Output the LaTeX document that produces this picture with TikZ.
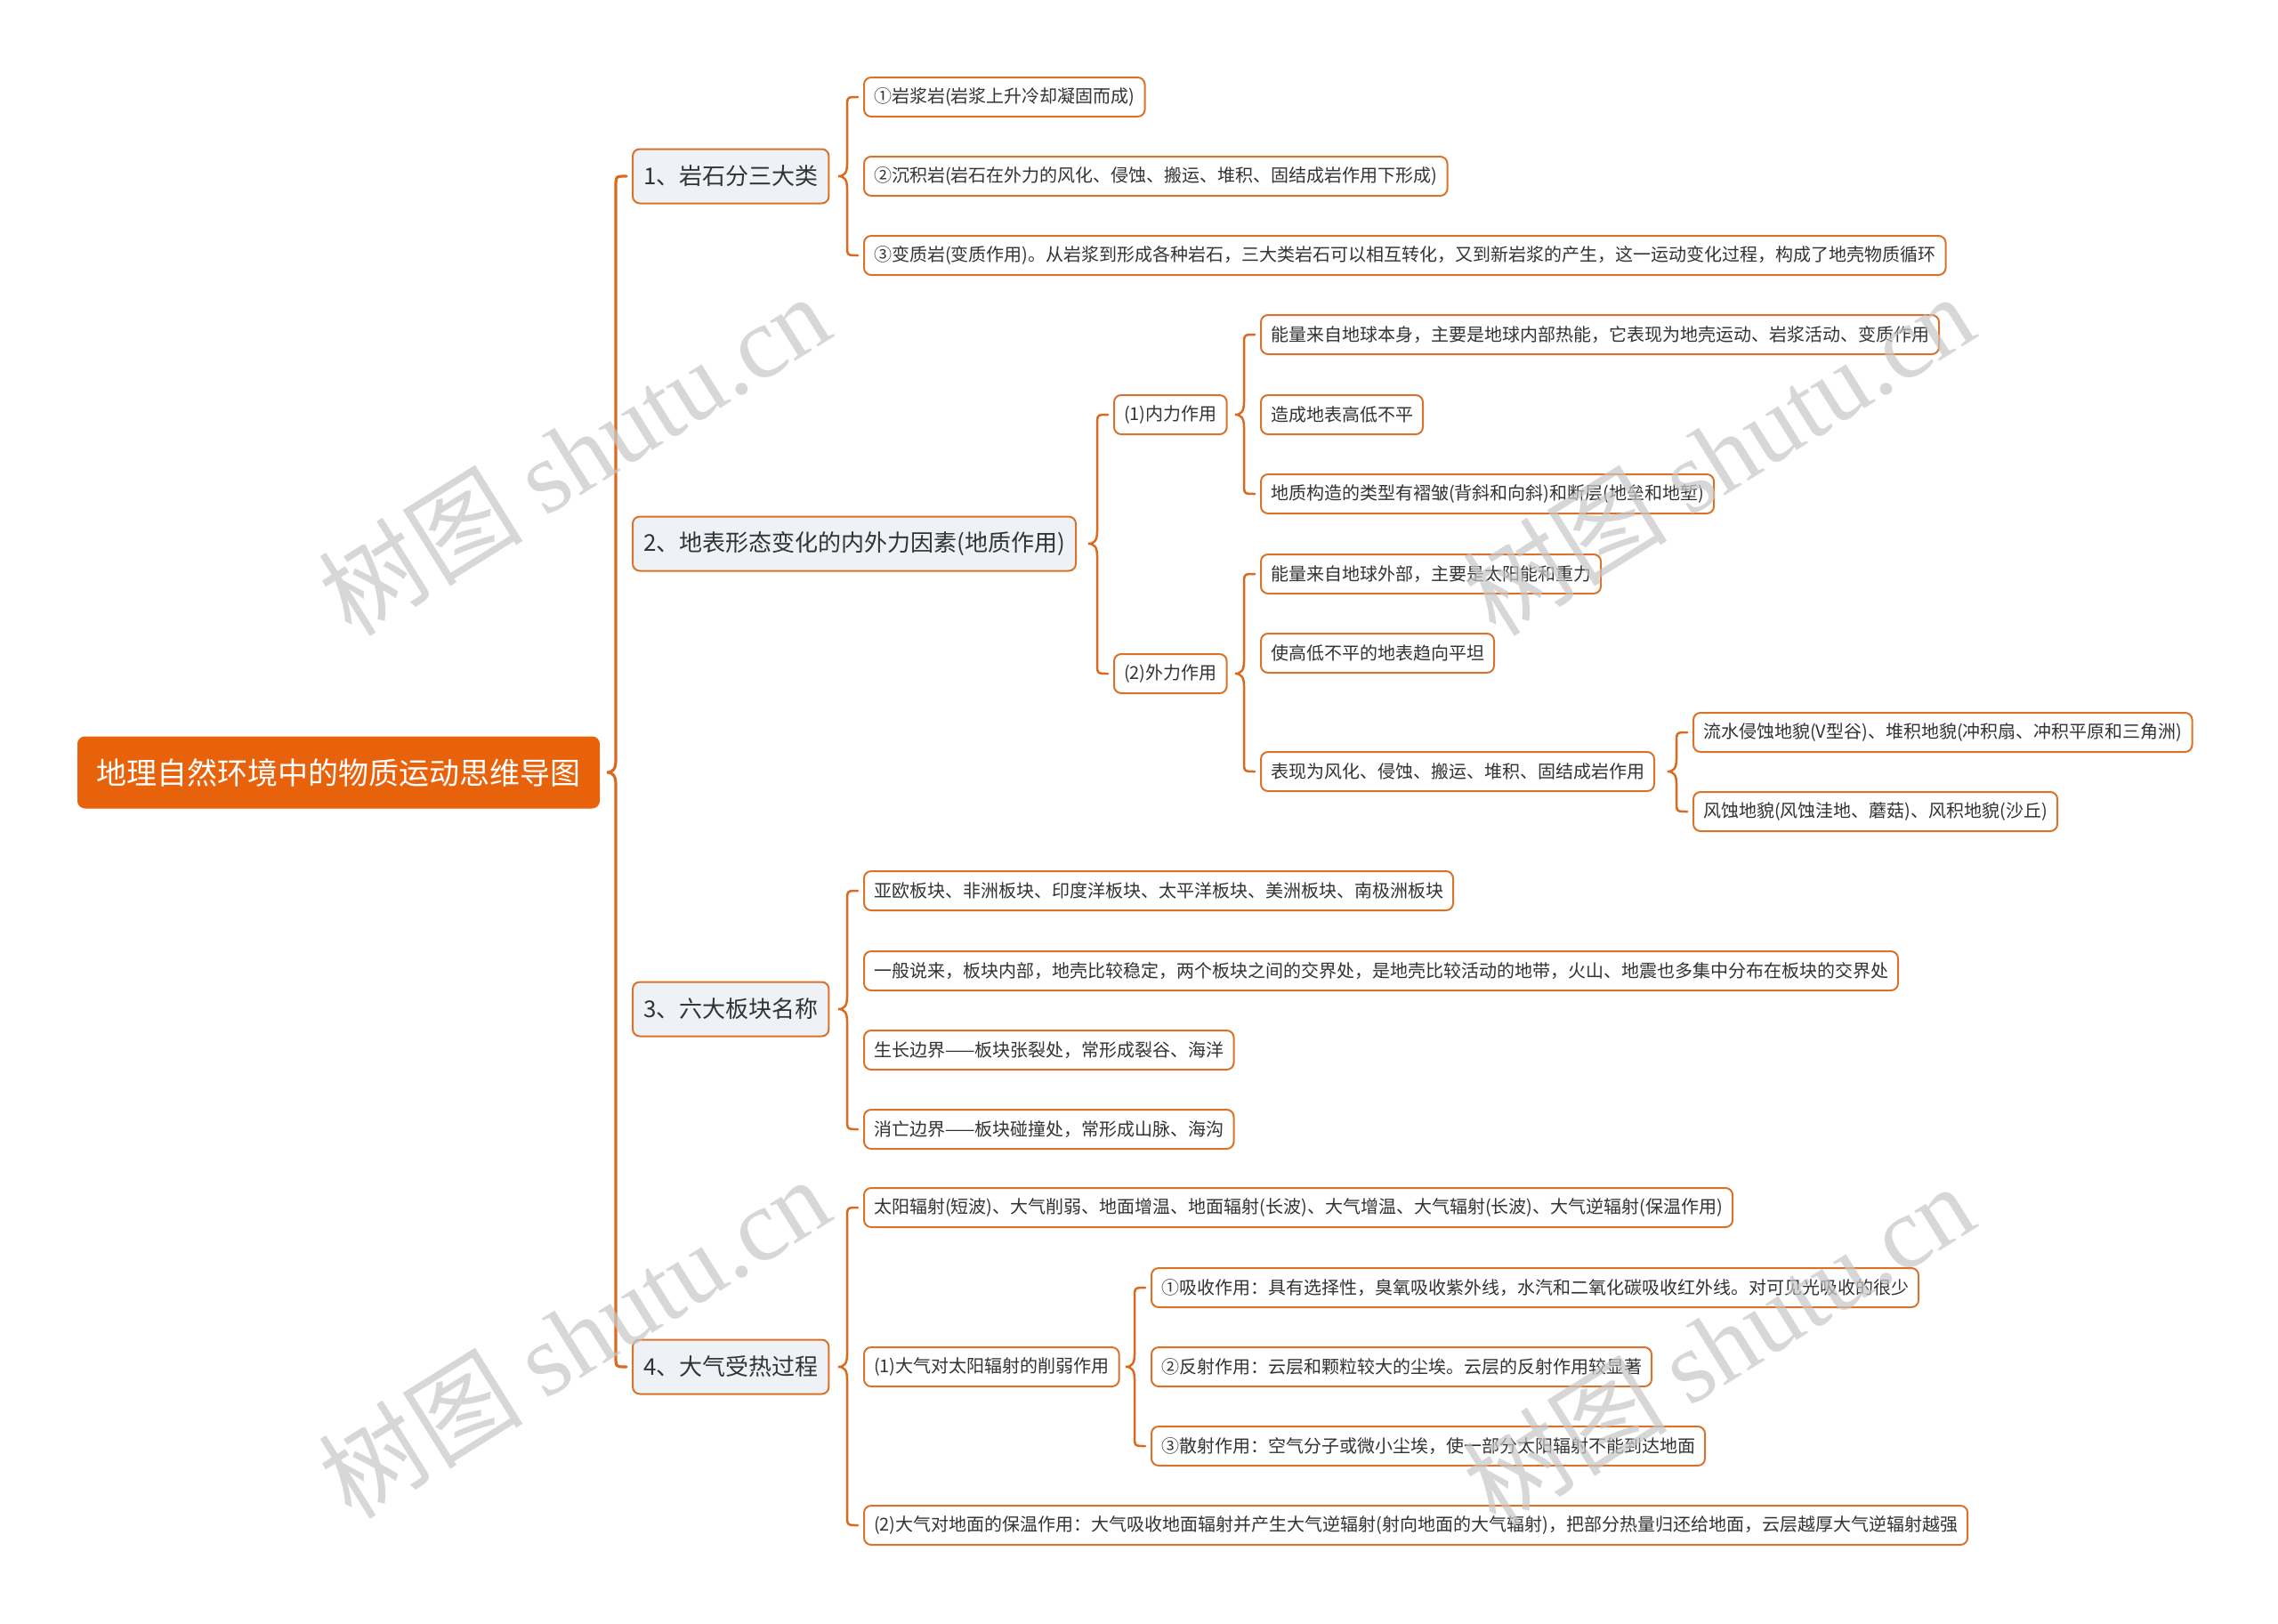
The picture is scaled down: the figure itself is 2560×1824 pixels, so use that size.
\documentclass[tikz,border=0pt]{standalone}
\usepackage{fontspec}
\setmainfont{Noto Sans CJK SC}
\newfontfamily\wmlatin{Liberation Serif}
\usetikzlibrary{calc}
\definecolor{rootfill}{HTML}{E8620C}
\definecolor{linkcol}{HTML}{DC6A1E}
\definecolor{boxline}{HTML}{D9732B}
\definecolor{topicfill}{HTML}{EEF1F5}
\definecolor{inktext}{HTML}{333333}
\tikzset{
  rootbox/.style={draw=rootfill,fill=rootfill,text=white,rounded corners=8pt,line width=1pt,inner xsep=21pt,minimum height=80pt,font=\fontsize{34}{40}\selectfont,anchor=west},
  topicbox/.style={draw=boxline,fill=topicfill,text=inktext,rounded corners=8pt,line width=2pt,inner xsep=12pt,minimum height=61pt,font=\fontsize{26}{31}\selectfont,anchor=west},
  leafbox/.style={draw=boxline,fill=white,text=inktext,rounded corners=8pt,line width=2pt,inner xsep=11pt,minimum height=44pt,font=\fontsize{20}{24}\selectfont,anchor=west},
  mmlink/.style={draw=linkcol,line width=2.5pt,line cap=round},
  mmtrunk/.style={mmlink,line width=3.2pt},
  wmtext/.style={text=black!22,opacity=0.7,rotate=32,font=\fontsize{115}{120}\selectfont}
}
\newcommand{\mmbrace}[4][mmlink]{%
\draw[#1] let \p1=(#2.east), \p2=(#3.west), \p3=(#4.west) in
  (\x2-6pt,\y2) .. controls (\x2-18pt,\y2) .. (\x2-18pt,\y2-12pt)
  -- (\x2-18pt,\y1+14pt) .. controls (\x2-18pt,\y1+4pt) and (\x2-21pt,\y1) .. (\x2-28pt,\y1)
  .. controls (\x2-21pt,\y1) and (\x2-18pt,\y1-4pt) .. (\x2-18pt,\y1-14pt)
  -- (\x2-18pt,\y3+12pt) .. controls (\x2-18pt,\y3) .. (\x2-6pt,\y3);}

\begin{document}
\begin{tikzpicture}[x=1pt,y=-1pt]
\useasboundingbox (0,0) rectangle (2560,1824);
\fill[white] (0,0) rectangle (2560,1824);

\node[rootbox] (root) at (87,868) {地理自然环境中的物质运动思维导图};

\node[topicbox] (g1) at (710,198) {1、岩石分三大类};
\node[topicbox] (g2) at (710,611) {2、地表形态变化的内外力因素(地质作用)};
\node[topicbox] (g3) at (710,1134) {3、六大板块名称};
\node[topicbox] (g4) at (710,1536) {4、大气受热过程};

\node[leafbox] (a1) at (970,109) {①岩浆岩(岩浆上升冷却凝固而成)};
\node[leafbox] (a2) at (970,198) {②沉积岩(岩石在外力的风化、侵蚀、搬运、堆积、固结成岩作用下形成)};
\node[leafbox] (a3) at (970,287) {③变质岩(变质作用)。从岩浆到形成各种岩石，三大类岩石可以相互转化，又到新岩浆的产生，这一运动变化过程，构成了地壳物质循环};

\node[leafbox] (b1) at (1251,466) {(1)内力作用};
\node[leafbox] (b2) at (1251,757) {(2)外力作用};
\node[leafbox] (b11) at (1416,376) {能量来自地球本身，主要是地球内部热能，它表现为地壳运动、岩浆活动、变质作用};
\node[leafbox] (b12) at (1416,466) {造成地表高低不平};
\node[leafbox] (b13) at (1416,555) {地质构造的类型有褶皱(背斜和向斜)和断层(地垒和地堑)};
\node[leafbox] (b21) at (1416,645) {能量来自地球外部，主要是太阳能和重力};
\node[leafbox] (b22) at (1416,734) {使高低不平的地表趋向平坦};
\node[leafbox] (b23) at (1416,867) {表现为风化、侵蚀、搬运、堆积、固结成岩作用};
\node[leafbox] (b231) at (1902,823) {流水侵蚀地貌(V型谷)、堆积地貌(冲积扇、冲积平原和三角洲)};
\node[leafbox] (b232) at (1902,912) {风蚀地貌(风蚀洼地、蘑菇)、风积地貌(沙丘)};

\node[leafbox] (c1) at (970,1001) {亚欧板块、非洲板块、印度洋板块、太平洋板块、美洲板块、南极洲板块};
\node[leafbox] (c2) at (970,1091) {一般说来，板块内部，地壳比较稳定，两个板块之间的交界处，是地壳比较活动的地带，火山、地震也多集中分布在板块的交界处};
\node[leafbox] (c3) at (970,1180) {生长边界——板块张裂处，常形成裂谷、海洋};
\node[leafbox] (c4) at (970,1269) {消亡边界——板块碰撞处，常形成山脉、海沟};

\node[leafbox] (d1) at (970,1357) {太阳辐射(短波)、大气削弱、地面增温、地面辐射(长波)、大气增温、大气辐射(长波)、大气逆辐射(保温作用)};
\node[leafbox] (d2) at (970,1536) {(1)大气对太阳辐射的削弱作用};
\node[leafbox] (d3) at (970,1714) {(2)大气对地面的保温作用：大气吸收地面辐射并产生大气逆辐射(射向地面的大气辐射)，把部分热量归还给地面，云层越厚大气逆辐射越强};
\node[leafbox] (d21) at (1293,1447) {①吸收作用：具有选择性，臭氧吸收紫外线，水汽和二氧化碳吸收红外线。对可见光吸收的很少};
\node[leafbox] (d22) at (1293,1536) {②反射作用：云层和颗粒较大的尘埃。云层的反射作用较显著};
\node[leafbox] (d23) at (1293,1625) {③散射作用：空气分子或微小尘埃，使一部分太阳辐射不能到达地面};

\mmbrace[mmtrunk]{root}{g1}{g4}
\mmbrace{g1}{a1}{a3}
\mmbrace{g2}{b1}{b2}
\mmbrace{b1}{b11}{b13}
\mmbrace{b2}{b21}{b23}
\mmbrace{b23}{b231}{b232}
\mmbrace{g3}{c1}{c4}
\mmbrace{g4}{d1}{d3}
\mmbrace{d2}{d21}{d23}

\node[wmtext] (wm1) at (645,510) {树图 {\wmlatin shutu.cn}};
\node[wmtext] (wm2) at (1931,510) {树图 {\wmlatin shutu.cn}};
\node[wmtext] (wm3) at (645,1502) {树图 {\wmlatin shutu.cn}};
\node[wmtext] (wm4) at (1931,1510) {树图 {\wmlatin shutu.cn}};
\end{tikzpicture}
\end{document}
